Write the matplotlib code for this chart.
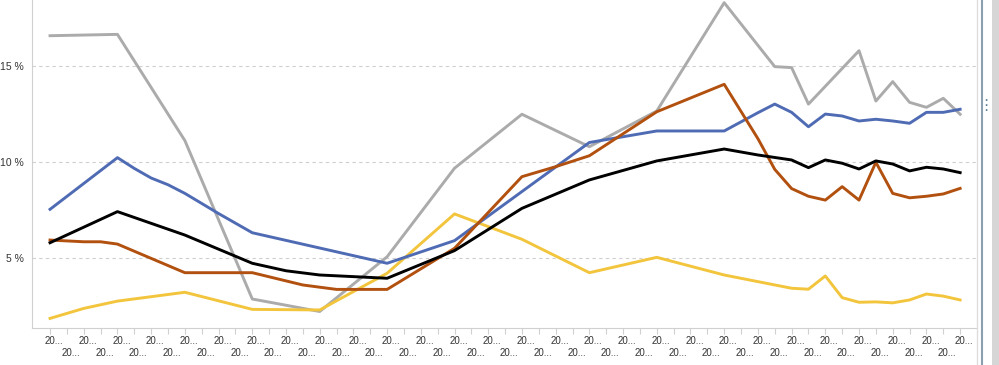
import matplotlib.pyplot as plt
from matplotlib.transforms import ScaledTranslation
from matplotlib.patches import Rectangle

# x positions are tick indices (55 periods, labels truncated to "20...")
n_ticks = 55
tick_labels = ["20..." if i % 2 == 0 else "\n20..." for i in range(n_ticks)]

gray_x = [0, 4, 8, 12, 16, 20, 24, 28, 32, 36, 40, 43, 44, 45, 48, 49, 50, 51, 52, 53, 54]
gray_y = [16.56, 16.63, 11.1, 2.85, 2.2, 5.05, 9.66, 12.47, 10.78, 12.64, 18.28,
          14.95, 14.9, 13.0, 15.78, 13.16, 14.17, 13.09, 12.83, 13.3, 12.47]

blue_x = [0, 4, 5, 6, 7, 8, 10, 12, 20, 24, 32, 36, 40, 42, 43, 44, 45, 46, 47, 48, 49, 50, 51, 52, 53, 54]
blue_y = [7.52, 10.21, 9.65, 9.15, 8.8, 8.35, 7.3, 6.3, 4.71, 5.89, 11.0, 11.6, 11.6,
          12.55, 13.0, 12.57, 11.82, 12.48, 12.38, 12.12, 12.21, 12.12, 12.0, 12.57, 12.57, 12.73]

orange_x = [0, 2, 3, 4, 8, 12, 15, 17, 20, 24, 28, 30, 32, 36, 40, 42, 43, 44, 45, 46, 47, 48, 49, 50, 51, 52, 53, 54]
orange_y = [5.92, 5.83, 5.83, 5.71, 4.22, 4.22, 3.58, 3.35, 3.35, 5.49, 9.22, 9.74, 10.31, 12.6, 14.03,
            11.2, 9.6, 8.6, 8.2, 8.0, 8.7, 8.0, 9.97, 8.35, 8.12, 8.2, 8.32, 8.61]

black_x = [0, 4, 8, 12, 14, 16, 20, 24, 28, 32, 36, 40, 42, 44, 45, 46, 47, 48, 49, 50, 51, 52, 53, 54]
black_y = [5.78, 7.4, 6.18, 4.71, 4.32, 4.1, 3.93, 5.37, 7.57, 9.05, 10.04, 10.66,
           10.35, 10.09, 9.69, 10.09, 9.92, 9.62, 10.04, 9.88, 9.52, 9.71, 9.62, 9.43]

yellow_x = [0, 2, 4, 8, 12, 16, 20, 24, 28, 32, 36, 40, 44, 45, 46, 47, 48, 49, 50, 51, 52, 53, 54]
yellow_y = [1.84, 2.36, 2.74, 3.2, 2.31, 2.28, 4.19, 7.28, 5.96, 4.22, 5.02, 4.1,
            3.41, 3.36, 4.05, 2.92, 2.68, 2.7, 2.65, 2.8, 3.11, 3.0, 2.8]

y_ticks = [5, 10, 15]
y_tick_labels = ["5 %", "10 %", "15 %"]

fig = plt.figure(figsize=(9.99, 3.65), dpi=100)
plt.rcParams['font.family'] = ['Liberation Sans', 'DejaVu Sans']
ax = fig.add_axes([32 / 999, 37 / 365, 945 / 999, 328 / 365])

ax.plot(gray_x, gray_y, color="#ababab", lw=2.1, zorder=2)
ax.plot(yellow_x, yellow_y, color="#f2c53d", lw=2.1, zorder=3)
ax.plot(blue_x, blue_y, color="#4f6bb4", lw=2.1, zorder=4)
ax.plot(orange_x, orange_y, color="#b2510f", lw=2.1, zorder=5)
ax.plot(black_x, black_y, color="#000000", lw=2.1, zorder=6)

ax.set_xlim(-1.07, 55.0)
ax.set_ylim(1.34, 18.42)

ax.set_xticks(range(n_ticks))
ax.set_xticklabels(tick_labels, fontsize=7, color="#333333", linespacing=1.25)
ax.tick_params(axis="x", length=4, width=0.8, color="#d0d0d0", pad=2)
offset = ScaledTranslation(4 / 100, 0, fig.dpi_scale_trans)
for lab in ax.get_xticklabels():
    lab.set_transform(lab.get_transform() + offset)

ax.set_yticks(y_ticks)
ax.set_yticklabels(y_tick_labels, fontsize=7.5, color="#333333")
ax.tick_params(axis="y", length=0, pad=6)

ax.grid(axis="y", color="#cfcfcf", linestyle=(0, (3, 3)), lw=0.8)
ax.set_axisbelow(True)
for side in ["top", "right"]:
    ax.spines[side].set_visible(False)
ax.spines["left"].set_color("#d0d0d0")
ax.spines["bottom"].set_color("#d0d0d0")

# right-hand pane border and grip
fig.add_artist(plt.Line2D([977 / 999, 977 / 999], [0, 1], color="#dddddd", lw=1))
fig.add_artist(plt.Line2D([982 / 999, 982 / 999], [0, 1], color="#8aa0ae", lw=1.5))
fig.add_artist(Rectangle((992 / 999, 0), 7 / 999, 1, transform=fig.transFigure,
                         color="#d6d6d6", lw=0))
fig.text(986 / 999, 1 - 106 / 365, "⋮", fontsize=11, color="#5a7f9a",
         ha="center", va="center", family="DejaVu Sans")

fig.savefig("out.png", dpi=100)
